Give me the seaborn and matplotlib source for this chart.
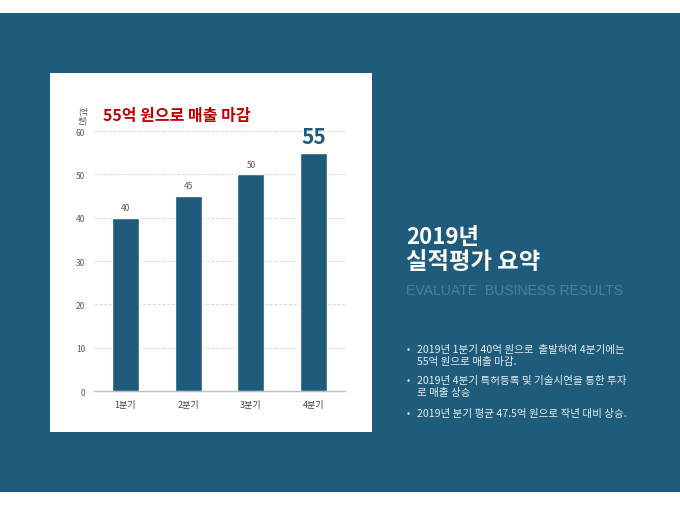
import matplotlib
matplotlib.use("Agg")
import matplotlib.pyplot as plt
from matplotlib.patches import Rectangle
import seaborn as sns
import pandas as pd

# ---- data ----
quarters = ["1분기", "2분기", "3분기", "4분기"]
sales = [40, 45, 50, 55]
y_ticks = [0, 10, 20, 30, 40, 50, 60]
chart_title = "55억 원으로 매출 마감"
unit_label = "(억\n원)"
heading_lines = ["2019년", "실적평가 요약"]
subheading = "EVALUATE  BUSINESS RESULTS"
bullets = [
    "2019년 1분기 40억 원으로  출발하여 4분기에는\n55억 원으로 매출 마감.",
    "2019년 4분기 특허등록 및 기술시연을 통한 투자\n로 매출 상승",
    "2019년 분기 평균 47.5억 원으로 작년 대비 상승.",
]

sns.set_theme(style="white")
plt.rcParams["font.family"] = ["Noto Sans CJK KR", "DejaVu Sans"]

BLUE = "#1f5b7a"
W, H = 680, 510

def fx(px):
    return px / W

def fy(py):
    return 1 - py / H

fig = plt.figure(figsize=(6.8, 5.1), dpi=100, facecolor="white")

# background blue band and white panel
fig.patches.append(Rectangle((0, fy(493)), 1, (493 - 14) / H, transform=fig.transFigure,
                             facecolor=BLUE, edgecolor="none", zorder=0))
fig.patches.append(Rectangle((fx(50), fy(433)), (372 - 50) / W, (433 - 74) / H,
                             transform=fig.transFigure, facecolor="white",
                             edgecolor="none", zorder=1))

ax = fig.add_axes([fx(94), fy(392), (345 - 94) / W, (392 - 132) / H])
ax.set_zorder(3)
ax.set_facecolor("none")
df = pd.DataFrame({"quarter": quarters, "sales": sales})
sns.barplot(data=df, x="quarter", y="sales", color=BLUE, saturation=1, width=0.43, ax=ax, zorder=3)
ax.set_xlim(-0.5, 3.5)
ax.set_ylim(0, 60)
ax.set_yticks(y_ticks)
ax.set_xlabel("")
ax.set_ylabel("")
for s in ["top", "right", "left"]:
    ax.spines[s].set_visible(False)
ax.spines["bottom"].set_color("#bfbfbf")
ax.spines["bottom"].set_linewidth(1.0)
ax.yaxis.grid(True, linestyle=(0, (3, 2)), color="#d6d6d6", linewidth=0.7)
ax.set_axisbelow(True)
ax.tick_params(axis="y", length=0, pad=6.5, labelsize=6, labelcolor="#595959")
ax.tick_params(axis="x", length=0, pad=6.5, labelsize=6.5, labelcolor="#404040")
ax.set_xticks([-0.5, 0.5, 1.5, 2.5, 3.5], minor=True)
ax.tick_params(axis="x", which="minor", length=4, direction="in", color="#bfbfbf", width=1)

for i, v in enumerate(sales):
    if i == len(sales) - 1:
        ax.annotate(str(v), (i, v), xytext=(0, 4), textcoords="offset points",
                    ha="center", va="bottom", fontsize=15, fontweight="bold", color=BLUE)
    else:
        ax.annotate(str(v), (i, v), xytext=(0, 4), textcoords="offset points",
                    ha="center", va="bottom", fontsize=6, color="#595959")

fig.text(fx(103), fy(116), chart_title, ha="left", va="center", fontsize=11.5,
         fontweight="bold", color="#c00000", zorder=5)
fig.text(fx(78), fy(117), unit_label, ha="left", va="center", fontsize=5.8,
         color="#595959", linespacing=1.05, zorder=5)

# right side text
fig.text(fx(406), fy(237), heading_lines[0], ha="left", va="center", fontsize=16,
         fontweight="bold", color="white", zorder=5)
fig.text(fx(406), fy(262), heading_lines[1], ha="left", va="center", fontsize=16.8,
         fontweight="bold", color="white", zorder=5)
fig.text(fx(406), fy(291), subheading, ha="left", va="center", fontsize=10.1,
         color="#4f7f9a", family=["Liberation Sans", "DejaVu Sans"], zorder=5)

bullet_y = [356, 387, 414]
for yb, txt in zip(bullet_y, bullets):
    first_y = yb if "\n" not in txt else yb - 6
    fig.text(fx(406.5), fy(first_y), "•", ha="left", va="center", fontsize=7,
             color="#dfe7ec", zorder=5)
    fig.text(fx(416.5), fy(yb), txt, ha="left", va="center", fontsize=7.6,
             color="#e6edf1", linespacing=1.35, zorder=5)

fig.savefig("out.png", dpi=100, facecolor="white")
